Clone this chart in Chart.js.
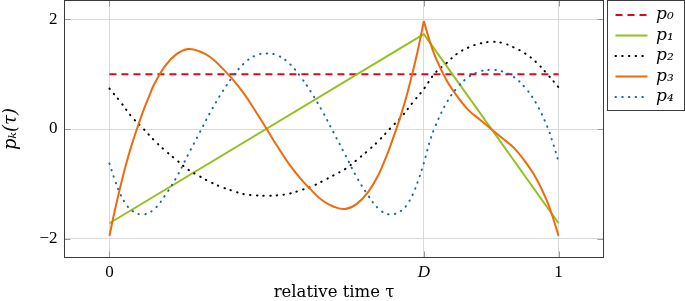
<!DOCTYPE html>
<html><head><meta charset="utf-8">
<script src="https://cdn.jsdelivr.net/npm/chart.js@4/dist/chart.umd.min.js"></script>
<style>html,body{margin:0;padding:0;background:#fff;}canvas{display:block;}</style>
</head><body>
<canvas id="c" width="685" height="301"></canvas>
<script>
// ---- data ----
const seriesLabels = ['p\u2080', 'p\u2081', 'p\u2082', 'p\u2083', 'p\u2084'];
const xTickValues = [0, 0.7, 1];
const xTickLabels = ['0', 'D', '1'];
const yTickValues = [-2, 0, 2];
const yTickLabels = ['\u22122', '0', '2'];

const tauP0 = [0, 1];
const p0 = [1, 1];

const tauP1 = [0, 0.7, 1];
const p1 = [-1.72, 1.73, -1.72];

const tauP2 = [0, 0.025, 0.05, 0.075, 0.1, 0.125, 0.15, 0.175, 0.2, 0.225, 0.25, 0.275, 0.3, 0.325, 0.35, 0.375, 0.4, 0.425, 0.45, 0.475, 0.5, 0.525, 0.55, 0.575, 0.6, 0.625, 0.65, 0.675, 0.7, 0.725, 0.75, 0.775, 0.8, 0.825, 0.85, 0.875, 0.9, 0.925, 0.95, 0.975, 1];
const p2 = [0.74, 0.49, 0.22, 0.01, -0.21, -0.40, -0.57, -0.74, -0.86, -0.97, -1.06, -1.13, -1.19, -1.21, -1.22, -1.21, -1.18, -1.12, -1.05, -0.95, -0.84, -0.73, -0.57, -0.40, -0.21, 0.01, 0.22, 0.48, 0.73, 1.02, 1.20, 1.38, 1.49, 1.56, 1.59, 1.57, 1.49, 1.38, 1.22, 1.00, 0.76];

const tauP3 = [0, 0.0125, 0.025, 0.0375, 0.05, 0.0625, 0.075, 0.0875, 0.1, 0.125, 0.15, 0.175, 0.2, 0.225, 0.25, 0.275, 0.3, 0.325, 0.35, 0.375, 0.4, 0.425, 0.45, 0.475, 0.5, 0.525, 0.55, 0.575, 0.6, 0.6125, 0.625, 0.6375, 0.65, 0.6625, 0.675, 0.6875, 0.7, 0.7125, 0.725, 0.75, 0.775, 0.8, 0.825, 0.85, 0.875, 0.9, 0.925, 0.95, 0.975, 0.9875, 1];
const p3 = [-1.95, -1.47, -1.03, -0.63, -0.28, 0.03, 0.32, 0.58, 0.82, 1.16, 1.37, 1.46, 1.42, 1.31, 1.12, 0.90, 0.64, 0.33, 0.0, -0.33, -0.64, -0.90, -1.12, -1.31, -1.42, -1.46, -1.37, -1.16, -0.82, -0.58, -0.32, -0.03, 0.28, 0.63, 1.03, 1.47, 1.97, 1.62, 1.33, 0.90, 0.59, 0.34, 0.17, 0.0, -0.17, -0.34, -0.59, -0.90, -1.33, -1.62, -1.95];

const tauP4 = [0, 0.0125, 0.025, 0.0375, 0.05, 0.075, 0.1, 0.125, 0.15, 0.175, 0.2, 0.225, 0.25, 0.275, 0.3, 0.325, 0.35, 0.375, 0.4, 0.425, 0.45, 0.475, 0.5, 0.525, 0.55, 0.575, 0.6, 0.625, 0.65, 0.6625, 0.675, 0.6875, 0.7, 0.7125, 0.725, 0.75, 0.775, 0.8, 0.825, 0.85, 0.875, 0.9, 0.925, 0.95, 0.975, 0.9875, 1];
const p4 = [-0.63, -0.94, -1.20, -1.38, -1.49, -1.56, -1.46, -1.20, -0.87, -0.47, -0.08, 0.31, 0.66, 0.96, 1.20, 1.34, 1.38, 1.34, 1.20, 0.96, 0.66, 0.31, -0.08, -0.47, -0.87, -1.20, -1.46, -1.56, -1.49, -1.38, -1.20, -0.94, -0.62, -0.25, 0.04, 0.47, 0.76, 0.95, 1.05, 1.08, 1.05, 0.95, 0.76, 0.47, 0.04, -0.26, -0.60];

// ---- build chart ----
const pts = (xs, ys) => xs.map((x, i) => ({x: x, y: ys[i]}));
const iD = tauP3.indexOf(0.7);

const COLORS = ['#e2061c', '#95c11f', '#000000', '#ef6a0c', '#1a68a4'];
const SERIF = "'Liberation Serif', 'DejaVu Serif', serif";
const DSERIF = "'DejaVu Serif', serif";
const DOTS = [0.5, 6.2];

const datasets = [
  {label: seriesLabels[0], data: pts(tauP0, p0), borderColor: COLORS[0], borderWidth: 2, borderDash: [7, 5], tension: 0, order: 6},
  {label: seriesLabels[1], data: pts(tauP1, p1), borderColor: COLORS[1], borderWidth: 2, tension: 0, order: 5},
  {label: seriesLabels[2], data: pts(tauP2, p2), borderColor: COLORS[2], borderWidth: 2, borderDash: DOTS, borderCapStyle: 'round', tension: 0.4, order: 4},
  {label: seriesLabels[3], data: pts(tauP3.slice(0, iD + 1), p3.slice(0, iD + 1)), borderColor: COLORS[3], borderWidth: 2, tension: 0.4, borderJoinStyle: 'round', order: 3},
  {label: seriesLabels[4], data: pts(tauP4, p4), borderColor: COLORS[4], borderWidth: 2, borderDash: DOTS, borderCapStyle: 'round', tension: 0.4, order: 1},
  {label: '', data: pts(tauP3.slice(iD), p3.slice(iD)), borderColor: COLORS[3], borderWidth: 2, tension: 0.4, borderJoinStyle: 'round', order: 2}
];

const AREA = {left: 64.5, right: 603.5, top: 0.5, bottom: 257.5};
const LEGEND_W = 685 - AREA.right;

const framePlugin = {
  id: 'framePlugin',
  beforeInit(chart) {
    const lg = chart.legend;
    if (lg) {
      const f = lg.fit;
      lg.fit = function () { f.call(this); this.width = LEGEND_W; };
    }
  },
  afterLayout(chart) {
    const lg = chart.legend;
    if (lg) { lg.left += 8.5; lg.right += 8.5; lg.top += 2.5; lg.bottom += 2.5; }
  },
  afterDatasetsDraw(chart) {
    const {ctx, chartArea: a} = chart;
    const xs = chart.scales.x, ys = chart.scales.y;
    ctx.save();
    ctx.strokeStyle = '#9a9a9a';
    ctx.lineWidth = 1;
    ctx.beginPath();
    xTickValues.forEach(v => {
      const px = Math.round(xs.getPixelForValue(v)) + 0.5;
      ctx.moveTo(px, a.bottom); ctx.lineTo(px, a.bottom - 6);
      ctx.moveTo(px, a.top); ctx.lineTo(px, a.top + 6);
    });
    yTickValues.forEach(v => {
      const py = Math.round(ys.getPixelForValue(v)) + 0.5;
      ctx.moveTo(a.left, py); ctx.lineTo(a.left + 6, py);
      ctx.moveTo(a.right, py); ctx.lineTo(a.right - 6, py);
    });
    ctx.stroke();
    ctx.strokeStyle = '#3a3a3a';
    ctx.strokeRect(a.left, a.top, a.right - a.left, a.bottom - a.top);
    ctx.restore();
  },
  afterDraw(chart) {
    const ctx = chart.ctx;
    ctx.save();
    ctx.strokeStyle = '#3a3a3a';
    ctx.lineWidth = 1;
    ctx.strokeRect(607.5, 0.5, 77, 110);
    ctx.restore();
  }
};

new Chart(document.getElementById('c'), {
  type: 'line',
  data: {datasets: datasets},
  plugins: [framePlugin],
  options: {
    responsive: false,
    devicePixelRatio: 1,
    animation: false,
    layout: {padding: {top: AREA.top, left: 0, right: 0, bottom: 0}},
    elements: {point: {radius: 0, hoverRadius: 0}, line: {fill: false}},
    plugins: {
      tooltip: {enabled: false},
      legend: {
        position: 'right',
        align: 'start',
        labels: {
          usePointStyle: true,
          pointStyle: 'line',
          pointStyleWidth: 32,
          boxHeight: 17,
          padding: 3.5,
          color: '#000',
          font: {family: DSERIF, style: 'italic', size: 17},
          generateLabels: chart => chart.data.datasets
            .map((ds, i) => ({
              text: ds.label,
              fillStyle: ds.borderColor,
              strokeStyle: ds.borderColor,
              fontColor: '#000',
              lineWidth: ds.borderWidth,
              lineDash: ds.borderDash || [],
              lineDashOffset: 0,
              lineCap: ds.borderCapStyle || 'butt',
              pointStyle: 'line',
              hidden: false,
              datasetIndex: i
            }))
            .filter(item => item.text !== '')
        }
      }
    },
    scales: {
      x: {
        type: 'linear',
        min: -0.1, max: 1.1,
        afterBuildTicks: s => { s.ticks = xTickValues.map(v => ({value: v})); },
        afterFit: s => { s.height = 301 - AREA.bottom; s.paddingLeft = 0; s.paddingRight = 0; },
        ticks: {
          padding: 4.5, color: '#000', autoSkip: false, maxRotation: 0,
          font: c => ({family: SERIF, size: 17, style: (c.tick && c.tick.value === 0.7) ? 'italic' : 'normal'}),
          callback: v => { const i = xTickValues.indexOf(v); return i >= 0 ? xTickLabels[i] : ''; }
        },
        grid: {color: '#d9d9d9', lineWidth: 1, drawTicks: false},
        border: {display: false},
        title: {display: true, text: 'relative time \u03c4', color: '#000', font: {family: DSERIF, size: 16.5, lineHeight: 1}, padding: {top: 0, bottom: 0.5}}
      },
      y: {
        type: 'linear',
        min: -2.345, max: 2.345,
        afterBuildTicks: s => { s.ticks = yTickValues.map(v => ({value: v})); },
        afterFit: s => { s.width = AREA.left; s.paddingTop = 0; s.paddingBottom = 0; },
        ticks: {
          padding: 7, color: '#000',
          font: {family: SERIF, size: 17},
          callback: v => { const i = yTickValues.indexOf(v); return i >= 0 ? yTickLabels[i] : ''; }
        },
        grid: {color: '#d9d9d9', lineWidth: 1, drawTicks: false},
        border: {display: false},
        title: {display: true, text: 'p\u2096(\u03c4)', color: '#000', font: {family: DSERIF, style: 'italic', size: 18}, padding: {top: 1, bottom: 0}}
      }
    }
  }
});
</script>
</body></html>
